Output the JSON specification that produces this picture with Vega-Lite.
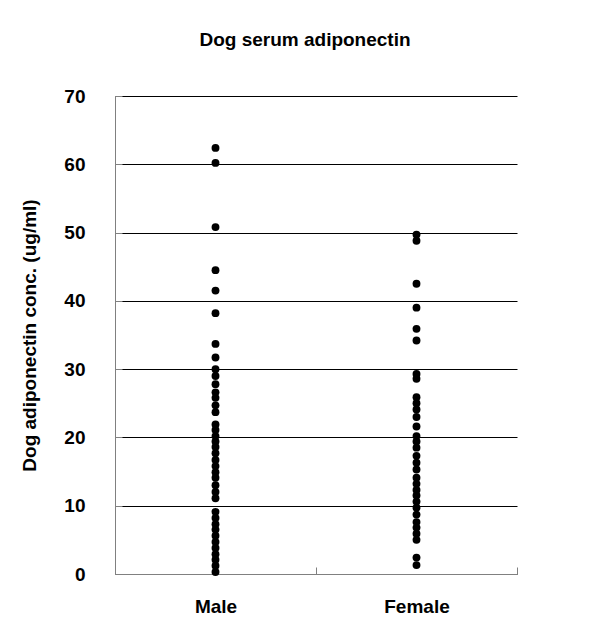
{
  "$schema": "https://vega.github.io/schema/vega-lite/v6.json",
  "autosize": "none",
  "width": 402,
  "height": 478,
  "padding": {"left": 115, "top": 96, "right": 93, "bottom": 58},
  "background": "white",
  "title": {
    "text": "Dog serum adiponectin",
    "font": "Liberation Sans",
    "fontSize": 19,
    "fontWeight": "bold",
    "color": "black",
    "offset": 37,
    "dx": -11
  },
  "config": {
    "view": {"stroke": null},
    "axis": {
      "labelFont": "Liberation Sans",
      "labelFontSize": 19,
      "labelFontWeight": "bold",
      "labelColor": "black",
      "titleFont": "Liberation Sans",
      "titleFontSize": 19,
      "titleFontWeight": "bold",
      "titleColor": "black",
      "domainColor": "#808080",
      "tickColor": "#808080",
      "gridColor": "black",
      "gridOpacity": 1
    }
  },
  "data": {
    "values": [
      {"sex": "Male", "conc": 62.4},
      {"sex": "Male", "conc": 60.2},
      {"sex": "Male", "conc": 50.8},
      {"sex": "Male", "conc": 44.5},
      {"sex": "Male", "conc": 41.5},
      {"sex": "Male", "conc": 38.2},
      {"sex": "Male", "conc": 33.7},
      {"sex": "Male", "conc": 31.7},
      {"sex": "Male", "conc": 30.0},
      {"sex": "Male", "conc": 29.0},
      {"sex": "Male", "conc": 27.8},
      {"sex": "Male", "conc": 26.6},
      {"sex": "Male", "conc": 25.8},
      {"sex": "Male", "conc": 24.7},
      {"sex": "Male", "conc": 23.7},
      {"sex": "Male", "conc": 21.9},
      {"sex": "Male", "conc": 21.1},
      {"sex": "Male", "conc": 20.2},
      {"sex": "Male", "conc": 19.4},
      {"sex": "Male", "conc": 18.6},
      {"sex": "Male", "conc": 17.7},
      {"sex": "Male", "conc": 16.7},
      {"sex": "Male", "conc": 15.8},
      {"sex": "Male", "conc": 14.9},
      {"sex": "Male", "conc": 14.1},
      {"sex": "Male", "conc": 13.0},
      {"sex": "Male", "conc": 12.0},
      {"sex": "Male", "conc": 11.1},
      {"sex": "Male", "conc": 9.1},
      {"sex": "Male", "conc": 8.2},
      {"sex": "Male", "conc": 7.3},
      {"sex": "Male", "conc": 6.5},
      {"sex": "Male", "conc": 5.6},
      {"sex": "Male", "conc": 4.7},
      {"sex": "Male", "conc": 3.8},
      {"sex": "Male", "conc": 2.9},
      {"sex": "Male", "conc": 2.1},
      {"sex": "Male", "conc": 1.2},
      {"sex": "Male", "conc": 0.3},
      {"sex": "Female", "conc": 49.7},
      {"sex": "Female", "conc": 48.8},
      {"sex": "Female", "conc": 42.5},
      {"sex": "Female", "conc": 39.0},
      {"sex": "Female", "conc": 35.9},
      {"sex": "Female", "conc": 34.2},
      {"sex": "Female", "conc": 29.3},
      {"sex": "Female", "conc": 28.6},
      {"sex": "Female", "conc": 25.9},
      {"sex": "Female", "conc": 25.0},
      {"sex": "Female", "conc": 24.1},
      {"sex": "Female", "conc": 23.0},
      {"sex": "Female", "conc": 21.6},
      {"sex": "Female", "conc": 20.2},
      {"sex": "Female", "conc": 19.4},
      {"sex": "Female", "conc": 18.5},
      {"sex": "Female", "conc": 17.3},
      {"sex": "Female", "conc": 16.3},
      {"sex": "Female", "conc": 15.3},
      {"sex": "Female", "conc": 14.1},
      {"sex": "Female", "conc": 13.2},
      {"sex": "Female", "conc": 12.3},
      {"sex": "Female", "conc": 11.5},
      {"sex": "Female", "conc": 10.6},
      {"sex": "Female", "conc": 9.7},
      {"sex": "Female", "conc": 8.7},
      {"sex": "Female", "conc": 7.6},
      {"sex": "Female", "conc": 6.8},
      {"sex": "Female", "conc": 5.9},
      {"sex": "Female", "conc": 5.0},
      {"sex": "Female", "conc": 2.4},
      {"sex": "Female", "conc": 1.3}
    ]
  },
  "mark": {"type": "point", "filled": true, "color": "black", "opacity": 1, "size": 62},
  "encoding": {
    "x": {
      "field": "sex",
      "type": "nominal",
      "sort": ["Male", "Female"],
      "scale": {"type": "band", "paddingInner": 0, "paddingOuter": 0},
      "axis": {
        "title": null,
        "labelAngle": 0,
        "tickBand": "extent",
        "tickSize": -7,
        "labelPadding": 30,
        "grid": false
      }
    },
    "y": {
      "field": "conc",
      "type": "quantitative",
      "scale": {"domain": [0, 70], "nice": false},
      "axis": {
        "title": "Dog adiponectin conc. (ug/ml)",
        "values": [0, 10, 20, 30, 40, 50, 60, 70],
        "tickSize": -7,
        "labelPadding": 37,
        "titlePadding": 24,
        "grid": true
      }
    }
  }
}
